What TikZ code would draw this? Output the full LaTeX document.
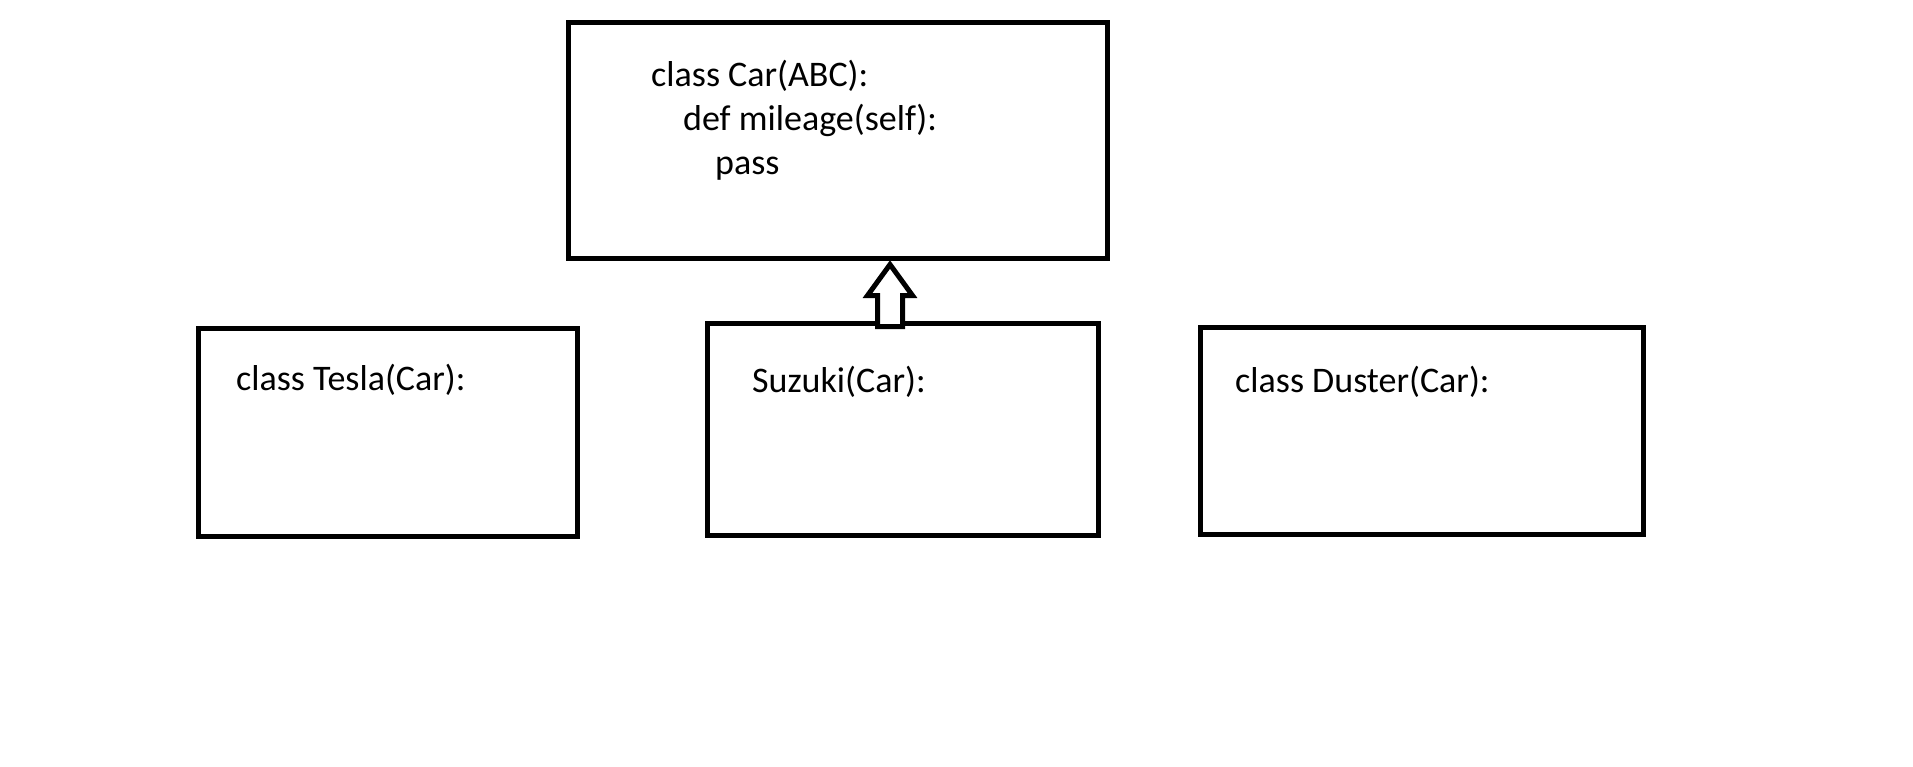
\documentclass[tikz,border=0pt]{standalone}
\usepackage{fontspec}
\setmainfont{Carlito}
\begin{document}
\begin{tikzpicture}[x=1pt,y=-1pt,
  box/.style={draw=black,line width=5pt,rectangle,inner sep=0pt},
  code/.style={anchor=base west,inner sep=0pt,font=\fontsize{36}{43}\selectfont}]
\useasboundingbox[fill=white] (0,0) rectangle (1913,766);
\node[box,minimum width=539pt,minimum height=236pt] (car) at (837.5,140.5) {};
\node[box,minimum width=379pt,minimum height=208pt] (tesla) at (387.5,432) {};
\node[box,minimum width=391pt,minimum height=212pt] (suzuki) at (902.5,429) {};
\node[box,minimum width=443pt,minimum height=207pt] (duster) at (1421.5,430.5) {};
\node[code] (t1) at (651,86) {class Car(ABC):};
\node[code] (t2) at (683,130) {def mileage(self):};
\node[code] (t3) at (715,174) {pass};
\node[code] (t4) at (236,390) {class Tesla(Car):};
\node[code] (t5) at (752,392) {Suzuki(Car):};
\node[code] (t6) at (1235,392) {class Duster(Car):};
\path (car.south) ++(52.5,3.5) coordinate (tip);
\draw[line width=5pt,line join=miter,fill=white] (tip) -- ++(22.5,31) -- ++(-10,0) -- ++(0,31) -- ++(-25,0) -- ++(0,-31) -- ++(-10,0) -- cycle;
\end{tikzpicture}
\end{document}
